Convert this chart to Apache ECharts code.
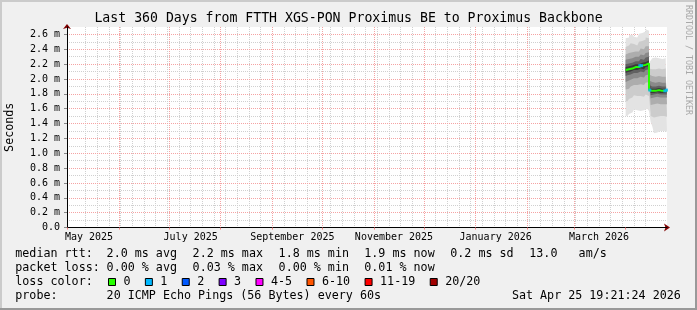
<!DOCTYPE html>
<html><head><meta charset="utf-8">
<script src="https://cdn.jsdelivr.net/npm/echarts@6/dist/echarts.min.js"></script>
<style>html,body{margin:0;padding:0;background:#f0f0f0}#c{width:697px;height:310px}</style>
</head><body><div id="c"></div>
<script>
// ---------- data ----------
const titleText = 'Last 360 Days from FTTH XGS-PON Proximus BE to Proximus Backbone';
const startTime = Date.UTC(2025, 3, 30, 19, 21, 24);
const endTime = Date.UTC(2026, 3, 25, 19, 21, 24);
const days = ['2026-04-01','2026-04-02','2026-04-03','2026-04-04','2026-04-05','2026-04-06','2026-04-07',
  '2026-04-08','2026-04-09','2026-04-10','2026-04-11','2026-04-12','2026-04-13','2026-04-14','2026-04-15',
  '2026-04-16','2026-04-17','2026-04-18','2026-04-19','2026-04-20','2026-04-21','2026-04-22','2026-04-23',
  '2026-04-24','2026-04-25'];
const median = [2.12,2.13,2.12,2.14,2.15,2.16,2.15,2.16,2.18,2.18,2.17,2.19,2.20,2.21,1.85,1.84,1.85,1.84,1.84,1.85,1.84,1.84,1.85,1.84,1.85];
const lossPings = [0,0,0,0,0,0,0,0,1,1,0,0,0,0,1,0,0,0,0,0,0,0,0,1,1];
const band1Hi = [2.55,2.56,2.59,2.60,2.58,2.57,2.56,2.58,2.61,2.62,2.60,2.64,2.67,2.65,2.22,2.25,2.28,2.29,2.29,2.28,2.27,2.27,2.26,2.28,2.33];
const band1Lo = [1.50,1.51,1.53,1.55,1.58,1.59,1.60,1.58,1.59,1.57,1.56,1.58,1.60,1.57,1.42,1.36,1.29,1.27,1.28,1.28,1.29,1.30,1.31,1.30,1.29];
const band2Hi = [2.43,2.45,2.47,2.48,2.47,2.46,2.45,2.47,2.50,2.51,2.49,2.53,2.56,2.55,2.14,2.13,2.14,2.13,2.14,2.14,2.13,2.13,2.13,2.14,2.18];
const band2Lo = [1.70,1.71,1.73,1.75,1.77,1.78,1.78,1.77,1.78,1.77,1.76,1.78,1.79,1.77,1.54,1.50,1.48,1.48,1.49,1.49,1.50,1.50,1.51,1.50,1.49];
const band3Hi = [2.33,2.35,2.35,2.36,2.36,2.37,2.36,2.37,2.39,2.41,2.40,2.42,2.44,2.44,2.06,2.04,2.04,2.03,2.03,2.04,2.03,2.03,2.04,2.03,2.06];
const band3Lo = [1.86,1.87,1.88,1.90,1.91,1.92,1.91,1.92,1.93,1.93,1.92,1.94,1.95,1.96,1.64,1.65,1.66,1.66,1.66,1.67,1.66,1.66,1.67,1.66,1.66];
const band4Hi = [2.26,2.27,2.27,2.28,2.29,2.30,2.29,2.30,2.31,2.33,2.32,2.34,2.35,2.36,1.98,1.96,1.96,1.95,1.95,1.96,1.95,1.95,1.96,1.95,1.97];
const band4Lo = [1.96,1.97,1.97,1.99,2.00,2.01,2.00,2.01,2.03,2.03,2.02,2.04,2.05,2.06,1.73,1.74,1.75,1.75,1.75,1.76,1.75,1.75,1.76,1.75,1.75];
const band5Hi = [2.20,2.21,2.21,2.22,2.23,2.24,2.23,2.24,2.26,2.27,2.26,2.28,2.29,2.30,1.92,1.90,1.91,1.90,1.90,1.91,1.90,1.90,1.91,1.90,1.92];
const band5Lo = [2.04,2.05,2.04,2.06,2.07,2.08,2.07,2.08,2.10,2.10,2.09,2.11,2.12,2.13,1.78,1.78,1.79,1.79,1.79,1.80,1.79,1.79,1.80,1.79,1.79];
const band6Hi = [2.16,2.17,2.16,2.18,2.19,2.20,2.19,2.20,2.22,2.22,2.21,2.23,2.24,2.25,1.88,1.87,1.88,1.87,1.87,1.88,1.87,1.87,1.88,1.87,1.88];
const band6Lo = [2.08,2.09,2.08,2.10,2.11,2.12,2.11,2.12,2.14,2.14,2.13,2.15,2.16,2.17,1.82,1.81,1.82,1.81,1.81,1.82,1.81,1.81,1.82,1.81,1.82];
const monthLabels = ['May 2025','July 2025','September 2025','November 2025','January 2026','March 2026'];
const monthLabelAt = ['2025-05-14','2025-07-14','2025-09-13','2025-11-13','2026-01-13','2026-03-16'];
const yMax = 2.7;
const statsRtt = ['2.0 ms avg','2.2 ms max','1.8 ms min','1.9 ms now','0.2 ms sd'];
const statsLoss = ['0.00 % avg','0.03 % max','0.00 % min','0.01 % now'];
const amps = '13.0';
const lossLabels = ['0','1','2','3','4-5','6-10','11-19','20/20'];
const lossColors = ['#26ff00','#00b8ff','#0059ff','#7e00ff','#ff00ff','#ff5500','#ff0000','#a10000'];
const probeText = '20 ICMP Echo Pings (56 Bytes) every 60s';
const dateText = 'Sat Apr 25 19:21:24 2026';

// ---------- styles ----------
const MONO = '"DejaVu Sans Mono", monospace';
const smokeColors = ['#e3e3e3','#cccccc','#adadad','#8a8a8a','#616161','#3a3a3a'];
const DAY = 86400000;

const dayT = days.map(d => Date.parse(d + 'T00:00:00Z'));
const xs = dayT.concat([endTime]);
const ext = arr => arr.concat([arr[arr.length - 1]]);
const pairs = arr => ext(arr).map((v, i) => [xs[i], v]);

const monthStarts = [];
for (let y = 2025, m = 4; Date.UTC(y, m, 1) < endTime; m++) {
  if (m > 11) { m = 0; y++; }
  monthStarts.push(Date.UTC(y, m, 1));
}
const mondays = [];
for (let t = Date.UTC(2025, 4, 5); t < endTime; t += 7 * DAY) mondays.push(t);
const labelTimes = monthLabelAt.map(d => Date.parse(d + 'T00:00:00Z'));

const bands = [[band1Lo, band1Hi],[band2Lo, band2Hi],[band3Lo, band3Hi],[band4Lo, band4Hi],[band5Lo, band5Hi],[band6Lo, band6Hi]];
const series = [];
bands.forEach(([lo, hi], k) => {
  series.push({type:'line', stack:'b'+k, step:'end', data: pairs(lo), symbol:'none', silent:true,
    lineStyle:{width:0, opacity:0}, z:2, xAxisIndex:0, yAxisIndex:1});
  series.push({type:'line', stack:'b'+k, step:'end', data: pairs(hi.map((v,i)=> +(v - lo[i]).toFixed(3))), symbol:'none', silent:true,
    lineStyle:{width:0, opacity:0}, areaStyle:{color: smokeColors[k], opacity:1}, z:2, xAxisIndex:0, yAxisIndex:1});
});
series.push({type:'line', step:'end', data: pairs(median), symbol:'none', silent:true,
  lineStyle:{color: lossColors[0], width:2}, z:3, xAxisIndex:0, yAxisIndex:1});
series.push({type:'scatter', silent:true, symbol:'rect', symbolSize:[3,3], z:4, xAxisIndex:0, yAxisIndex:1,
  data: dayT.map((t,i)=> lossPings[i] > 0 ? [t + DAY/2, median[i]] : null).filter(Boolean),
  itemStyle:{color: lossColors[1]}});

// ---------- legend / decorations ----------
const LF = '11.7px ' + MONO;
const txt = (x, y, text, extra) => Object.assign({type:'text', x, y, silent:true,
  style:{text, font: LF, fill:'#000', verticalAlign:'middle', textVerticalAlign:'middle'}}, extra || {});
const graphics = [
  {type:'rect', shape:{x:0,y:0,width:697,height:2}, style:{fill:'#cbcbcb'}, silent:true},
  {type:'rect', shape:{x:0,y:0,width:2,height:310}, style:{fill:'#cbcbcb'}, silent:true},
  {type:'rect', shape:{x:0,y:308,width:697,height:2}, style:{fill:'#999999'}, silent:true},
  {type:'rect', shape:{x:695,y:0,width:2,height:310}, style:{fill:'#999999'}, silent:true},
  {type:'text', x:688, y:60, rotation:-Math.PI/2, silent:true,
    style:{text:'RRDTOOL / TOBI OETIKER', font:'8.3px ' + MONO, fill:'#a8a8a8', align:'center', textAlign:'center', verticalAlign:'middle', textVerticalAlign:'middle'}}
];
const rowY = [254.3, 268.3, 282.3, 296.3];
const colX = [106.6, 192.6, 278.6, 364.3, 450.3];
graphics.push(txt(15.3, rowY[0], 'median rtt:'));
statsRtt.forEach((s, i) => graphics.push(txt(colX[i], rowY[0], s)));
graphics.push(txt(529.3, rowY[0], amps));
graphics.push(txt(578.6, rowY[0], 'am/s'));
graphics.push(txt(15.3, rowY[1], 'packet loss:'));
statsLoss.forEach((s, i) => graphics.push(txt(colX[i], rowY[1], s)));
graphics.push(txt(15.3, rowY[2], 'loss color:'));
let bx = 108.5;
lossLabels.forEach((lab, i) => {
  graphics.push({type:'rect', silent:true, shape:{x:bx, y:rowY[2]-3.8, width:7, height:7},
    style:{fill: lossColors[i], stroke:'#000', lineWidth:1}});
  graphics.push(txt(bx + 15, rowY[2], lab));
  bx += 15.7 + lab.length * 7.07 + 14.1;
});
graphics.push(txt(15.3, rowY[3], 'probe:'));
graphics.push(txt(106.6, rowY[3], probeText));
graphics.push(txt(680.8, rowY[3], dateText, {style:{text: dateText, font: LF, fill:'#000', align:'right', textAlign:'right', verticalAlign:'middle', textVerticalAlign:'middle'}}));

const gridDash = [1, 1];
const option = {
  animation: false,
  useUTC: true,
  backgroundColor: '#f0f0f0',
  textStyle: {fontFamily: MONO},
  title: {text: titleText, left: 'center', top: 12.5, padding: 0,
    textStyle: {fontFamily: MONO, fontSize: 13.2, fontWeight: 'normal', color: '#000'}},
  grid: {left: 67, top: 27, width: 600, height: 200.5, show: true, backgroundColor: '#fff', borderWidth: 0,
    containLabel: false, outerBoundsMode: 'none'},
  xAxis: [
    {type:'time', min:startTime, max:endTime, position:'bottom', show:true,
      axisLine:{show:false}, axisTick:{show:false}, axisLabel:{show:false}, splitLine:{show:false}},
    {type:'value', min:startTime, max:endTime, position:'bottom', z:1,
      axisLine:{show:true, onZero:false, lineStyle:{color:'#000', width:1}},
      axisTick:{show:true, customValues: monthStarts, length:2, inside:false, lineStyle:{color:'#f08080'}},
      axisLabel:{show:true, customValues: labelTimes, margin:5, fontSize:10, fontFamily:MONO, color:'#000',
        formatter: v => { const i = labelTimes.indexOf(v); return i >= 0 ? monthLabels[i] : ''; }},
      splitLine:{show:true, showMinLine:false, showMaxLine:false, lineStyle:{color:'#f5a3a3', width:1, type:gridDash}}},
    {type:'value', min:startTime, max:endTime, position:'bottom', z:0,
      axisLine:{show:true, onZero:false, symbol:['none','arrow'], symbolSize:[6,6], symbolOffset:[0,3], lineStyle:{color:'#800000', width:1}},
      axisTick:{show:false, customValues: mondays}, axisLabel:{show:false},
      splitLine:{show:true, showMinLine:false, showMaxLine:false, lineStyle:{color:'#d0d0d0', width:1, type:gridDash}}}
  ],
  yAxis: [
    {type:'value', min:0, max:yMax, interval:0.1, position:'left', z:0,
      axisLine:{show:true, onZero:false, symbol:['none','arrow'], symbolSize:[6,5], symbolOffset:[0,3], lineStyle:{color:'#800000', width:1}},
      axisTick:{show:false}, axisLabel:{show:false},
      splitLine:{show:true, showMinLine:false, showMaxLine:false, lineStyle:{color:'#d0d0d0', width:1, type:gridDash}}},
    {type:'value', min:0, max:yMax, interval:0.2, position:'left', z:1,
      name:'Seconds', nameLocation:'middle', nameGap:51, nameTextStyle:{fontFamily:MONO, fontSize:11.7, color:'#000'},
      axisLine:{show:true, onZero:false, lineStyle:{color:'#000', width:1}},
      axisTick:{show:true, length:3, lineStyle:{color:'#888'}},
      axisLabel:{margin:7, fontSize:10, fontFamily:MONO, color:'#000', showMaxLabel:false,
        formatter: v => v === 0 ? '0.0' : v.toFixed(1) + ' m'},
      splitLine:{show:true, showMinLine:false, showMaxLine:false, lineStyle:{color:'#f5a3a3', width:1, type:gridDash}}}
  ],
  series,
  graphic: graphics
};
const chart = echarts.init(document.getElementById('c'), null, {renderer:'canvas', width:697, height:310});
chart.setOption(option);
</script></body></html>
